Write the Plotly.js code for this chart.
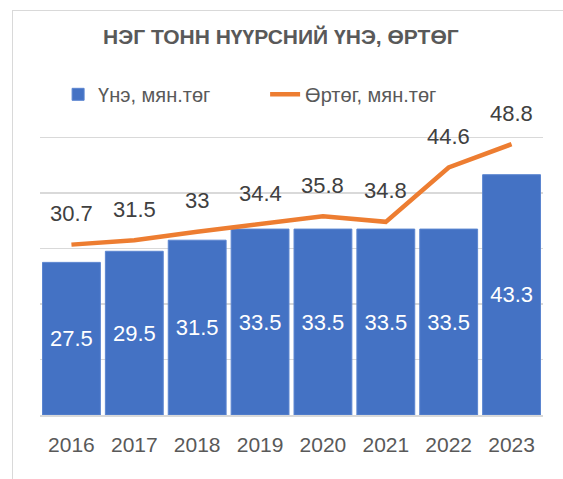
<!DOCTYPE html>
<html>
<head>
<meta charset="utf-8">
<script src="https://cdn.plot.ly/plotly-3.0.1.min.js"></script>
<style>
  html, body { margin: 0; padding: 0; background: #ffffff; }
  #frame {
    position: absolute; left: 12px; top: 10px;
    border-left: 1px solid #d9d9d9; border-top: 1px solid #d9d9d9;
  }
  #chart { width: 550px; height: 468px; }
</style>
</head>
<body>
<div id="frame"><div id="chart"></div></div>
<script>
const years = ['2016', '2017', '2018', '2019', '2020', '2021', '2022', '2023'];
const price = [27.5, 29.5, 31.5, 33.5, 33.5, 33.5, 33.5, 43.3];
const cost = [30.7, 31.5, 33, 34.4, 35.8, 34.8, 44.6, 48.8];

const priceName = 'Үнэ, мян.төг';
const costName = 'Өртөг, мян.төг';

const font = 'Liberation Sans, Arial, sans-serif';

const data = [
    {
        x: years,
        y: price,
        type: 'bar',
        name: priceName,
        marker: { color: '#4472c4', line: { color: '#5b85d0', width: 1 } },
        text: price.map(v => String(v)),
        textposition: 'inside',
        insidetextanchor: 'middle',
        textfont: { color: '#ffffff', size: 22, family: font },
        hoverinfo: 'x+y'
    },
    {
        x: years,
        y: cost,
        type: 'scatter',
        mode: 'lines',
        name: costName,
        line: { color: '#ed7d31', width: 4.5 },
        hoverinfo: 'x+y'
    }
];

// labels over the cost line (x by category index, numeric-looking years confuse annotations)
const costLabels = years.map((yr, i) => ({
    x: i,
    y: cost[i],
    text: String(cost[i]),
    showarrow: false,
    yshift: 31,
    font: { color: '#404040', size: 22, family: font }
}));

const layout = {
    width: 550,
    height: 468,
    margin: { l: 27, r: 20, t: 71, b: 64 },
    paper_bgcolor: '#ffffff',
    plot_bgcolor: '#ffffff',
    title: {
        text: '<b>НЭГ ТОНН НҮҮРСНИЙ ҮНЭ, ӨРТӨГ</b>',
        font: { family: font, size: 21, color: '#595959' },
        x: 0.487,
        xref: 'container',
        xanchor: 'center',
        y: 0.945,
        yref: 'container',
        yanchor: 'middle'
    },
    xaxis: {
        type: 'category',
        showgrid: false,
        showline: true,
        linecolor: '#d9d9d9',
        linewidth: 1.5,
        ticks: '',
        tickfont: { family: font, size: 21, color: '#595959' },
        ticklabelstandoff: 10
    },
    yaxis: {
        range: [0, 60],
        dtick: 10,
        showticklabels: false,
        gridcolor: '#d9d9d9',
        gridwidth: 1.5,
        zeroline: false,
        fixedrange: true
    },
    bargap: 0.08,
    showlegend: true,
    legend: {
        orientation: 'h',
        x: 0.036,
        xanchor: 'left',
        y: 0.963,
        yanchor: 'middle',
        bgcolor: 'rgba(0,0,0,0)',
        font: { family: font, size: 20, color: '#595959' },
        entrywidth: 162,
        entrywidthmode: 'pixels'
    },
    annotations: costLabels
};

Plotly.newPlot('chart', data, layout, { displayModeBar: false, staticPlot: true });
</script>
</body>
</html>
